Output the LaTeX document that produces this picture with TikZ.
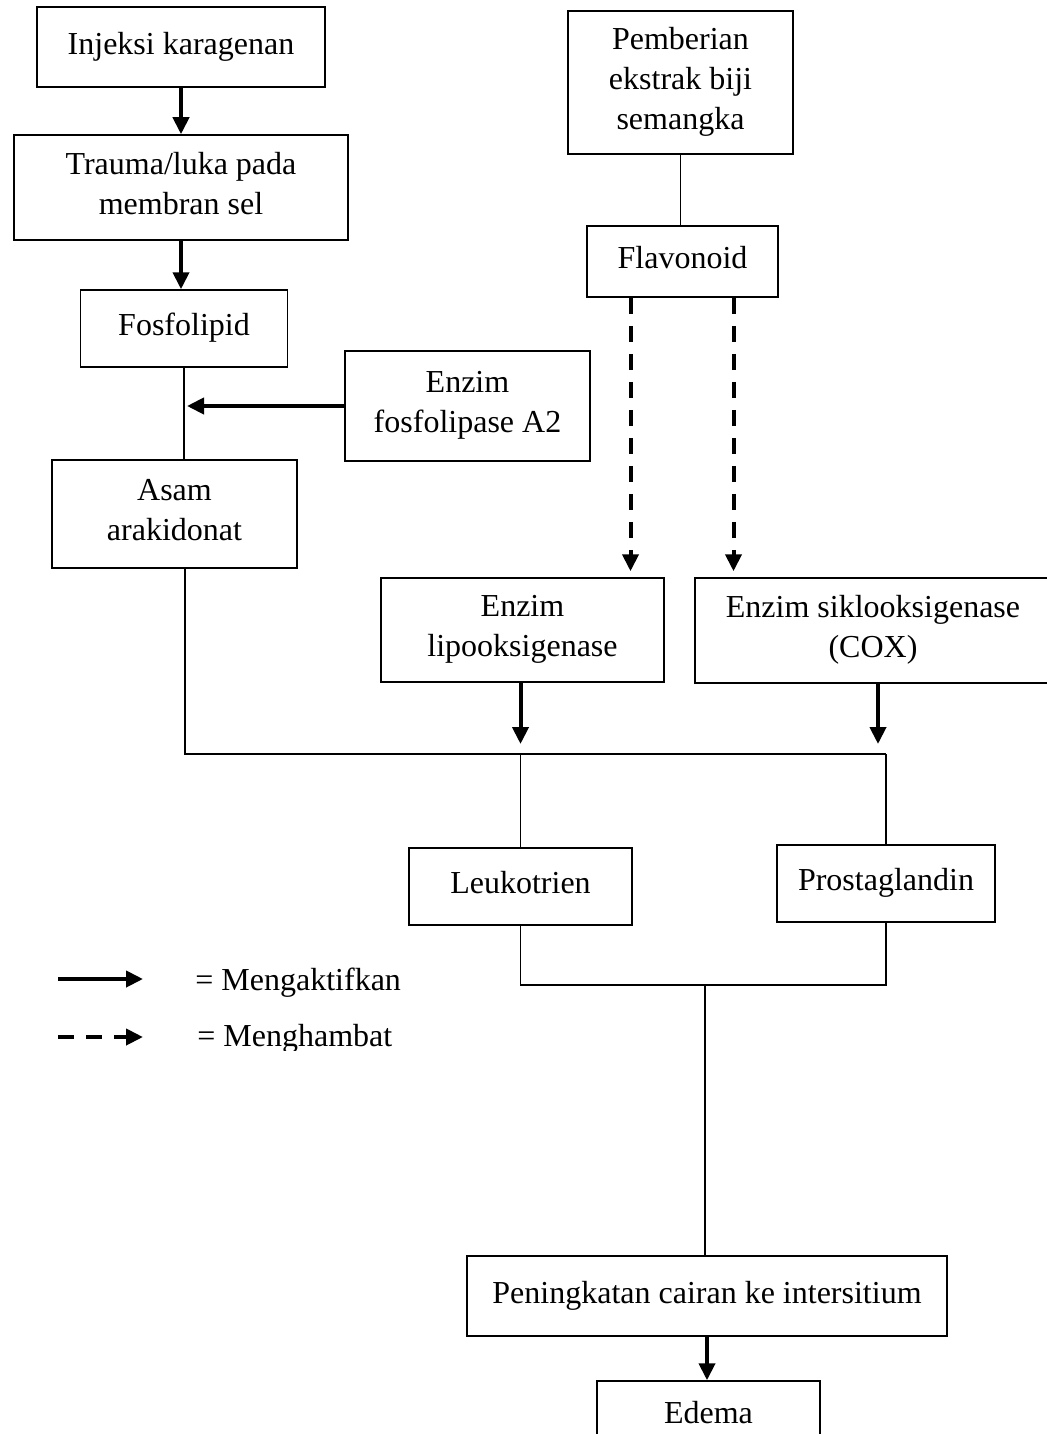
\documentclass[tikz,border=0pt]{standalone}
\usepackage{fontspec}
\setmainfont{Liberation Serif}
\usetikzlibrary{arrows.meta,calc}

\begin{document}
\begin{tikzpicture}[x=0.5pt, y=-0.5pt, >={Triangle[length=8.5pt,width=8pt]},
  kotak/.style={draw, line width=0.75pt, align=center, inner sep=0pt, text depth=4pt,
    font=\fontsize{16}{20}\selectfont},
  ket/.style={anchor=base west, inner sep=0pt, font=\fontsize{16}{20}\selectfont},
  panah/.style={->, line width=2pt},
  hambat/.style={->, line width=2pt, dash pattern=on 8pt off 6pt},
  garis/.style={line width=0.6pt}]
\useasboundingbox (0,0) rectangle (1047,1434);
\clip (0,0) rectangle (1047,1434);

\node[kotak, minimum width=144pt, minimum height=40pt] (injeksi) at (181,47) {Injeksi karagenan};
\node[kotak, minimum width=112.5pt, minimum height=71.5pt] (pemberian) at (680.5,82.5) {Pemberian\\ ekstrak biji\\ semangka};
\node[kotak, minimum width=167pt, minimum height=52.5pt] (trauma) at (181,187.5) {Trauma/luka pada\\ membran sel};
\node[kotak, minimum width=103.5pt, minimum height=38.5pt] (fosfolipid) at (184,328.5) {Fosfolipid};
\node[kotak, minimum width=95.5pt, minimum height=35.5pt] (flavonoid) at (682.5,261.5) {Flavonoid};
\node[kotak, minimum width=122.5pt, minimum height=55pt] (fosfolipase) at (467.5,406) {Enzim\\ fosfolipase A2};
\node[kotak, minimum width=122.5pt, minimum height=54pt] (asam) at (174.5,514) {Asam\\ arakidonat};
\node[kotak, minimum width=141.5pt, minimum height=52pt] (lipo) at (522.5,630) {Enzim\\ lipooksigenase};
\node[kotak, minimum width=178pt, minimum height=52.5pt] (cox) at (873,630.5) {Enzim siklooksigenase\\ (COX)};
\node[kotak, minimum width=111.5pt, minimum height=38.5pt] (leuko) at (520.5,886.5) {Leukotrien};
\node[kotak, minimum width=109pt, minimum height=38.5pt] (prosta) at (886,883.5) {Prostaglandin};
\node[kotak, minimum width=240pt, minimum height=40pt] (cairan) at (707,1296) {Peningkatan cairan ke intersitium};
\node[kotak, minimum width=111.5pt, minimum height=35pt] (edema) at (708.5,1416) {Edema};

\coordinate (kiri) at (185,754);
\coordinate (kanan) at (886,754);
\coordinate (temu) at (705,985);
\coordinate (hk) at ($(flavonoid.south)+(-52,0)$);
\coordinate (hn) at ($(flavonoid.south)+(51,0)$);

\draw[panah] (injeksi.south) -- (injeksi.south |- trauma.north);
\draw[panah] (trauma.south) -- (trauma.south |- fosfolipid.north);
\draw[garis] (pemberian.south) -- (pemberian.south |- flavonoid.north);
\draw[garis] (fosfolipid.south) -- (fosfolipid.south |- asam.north);
\draw[panah] (fosfolipase.west) -- ($(fosfolipase.west -| fosfolipid.south)+(3,0)$);
\draw[hambat, shorten >=3pt] (hk) -- (hk |- lipo.north);
\draw[hambat, shorten >=3pt] (hn) -- (hn |- cox.north);
\draw[panah, shorten >=5pt] ($(lipo.south)+(-2,0)$) -- ($(lipo.south |- kiri)+(-2,0)$);
\draw[panah, shorten >=5pt] ($(cox.south)+(5,0)$) -- ($(cox.south |- kiri)+(5,0)$);
\draw[garis] (kiri |- asam.south) -- (kiri) -- (kanan);
\draw[garis] (leuko.north |- kiri) -- (leuko.north);
\draw[garis] (kanan) -- (prosta.north);
\draw[garis] (leuko.south) -- (leuko.south |- temu) -- (prosta.south |- temu) -- (prosta.south);
\draw[garis] (temu) -- (temu |- cairan.north);
\draw[panah] (cairan.south) -- (cairan.south |- edema.north);

\coordinate (aktif1) at (58,979);
\coordinate (aktif2) at (143,979);
\coordinate (hambat1) at (58,1037);
\coordinate (hambat2) at (143,1037);
\draw[panah] (aktif1) -- (aktif2);
\draw[hambat] (hambat1) -- (hambat2);
\node[ket] (mengaktifkan) at (195,990) {= Mengaktifkan};
\begin{scope}
\clip (0,0) rectangle (1047,1050);
\node[ket] (menghambat) at (197,1046) {= Menghambat};
\end{scope}
\end{tikzpicture}
\end{document}
